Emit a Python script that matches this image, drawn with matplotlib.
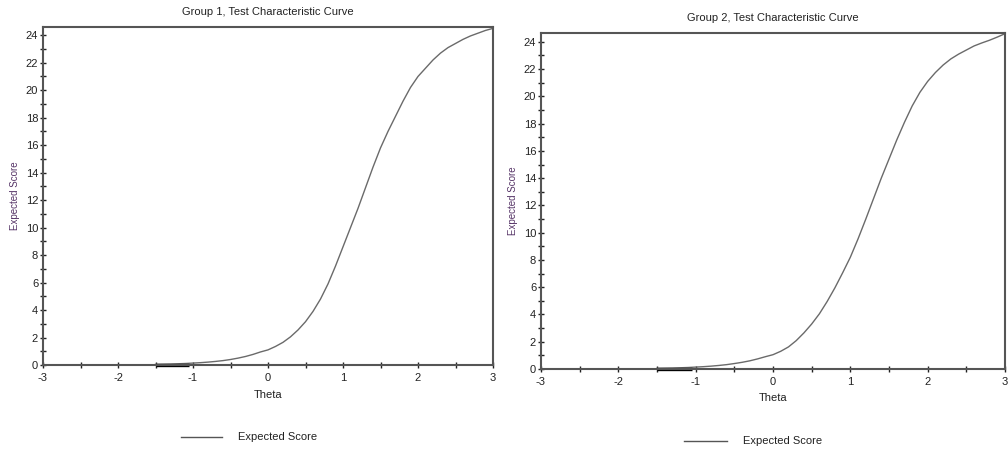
import matplotlib
matplotlib.use("Agg")
import matplotlib.pyplot as plt

plt.rcParams['font.family'] = ['Liberation Sans', 'DejaVu Sans']

# Data (theta every 0.1 from -1.5 to 3.0)
theta = [-1.5, -1.4, -1.3, -1.2, -1.1, -1.0, -0.9, -0.8, -0.7, -0.6,
         -0.5, -0.4, -0.3, -0.2, -0.1, 0.0, 0.1, 0.2, 0.3, 0.4,
         0.5, 0.6, 0.7, 0.8, 0.9, 1.0, 1.1, 1.2, 1.3, 1.4,
         1.5, 1.6, 1.7, 1.8, 1.9, 2.0, 2.1, 2.2, 2.3, 2.4,
         2.5, 2.6, 2.7, 2.8, 2.9, 3.0]
score1 = [0.05, 0.06, 0.07, 0.09, 0.11, 0.14, 0.17, 0.21, 0.26, 0.32,
          0.40, 0.50, 0.62, 0.77, 0.95, 1.10, 1.35, 1.65, 2.05, 2.55,
          3.15, 3.90, 4.80, 5.90, 7.20, 8.60, 10.0, 11.4, 12.9, 14.4,
          15.8, 17.0, 18.1, 19.2, 20.2, 21.0, 21.6, 22.2, 22.7, 23.1,
          23.4, 23.7, 23.95, 24.15, 24.35, 24.5]
score2 = [0.05, 0.06, 0.07, 0.09, 0.11, 0.14, 0.17, 0.21, 0.26, 0.32,
          0.40, 0.49, 0.60, 0.74, 0.90, 1.05, 1.30, 1.62, 2.08, 2.65,
          3.30, 4.05, 4.95, 5.95, 7.05, 8.20, 9.55, 11.0, 12.5, 14.0,
          15.4, 16.8, 18.1, 19.3, 20.3, 21.1, 21.75, 22.3, 22.75, 23.1,
          23.4, 23.7, 23.92, 24.12, 24.35, 24.6]

x_major = [-3, -2, -1, 0, 1, 2, 3]
x_minor = [-2.5, -1.5, -0.5, 0.5, 1.5, 2.5]
y_major = [0, 2, 4, 6, 8, 10, 12, 14, 16, 18, 20, 22, 24]
y_minor = [1, 3, 5, 7, 9, 11, 13, 15, 17, 19, 21, 23]

titles = ["Group 1, Test Characteristic Curve", "Group 2, Test Characteristic Curve"]
xlabel = "Theta"
ylabel = "Expected Score"
legend_label = "Expected Score"

W, H = 1008, 450
fig = plt.figure(figsize=(W / 100, H / 100), dpi=100)

def px_axes(x0, y0, x1, y1):
    return fig.add_axes([x0 / W, 1 - y1 / H, (x1 - x0) / W, (y1 - y0) / H])

axes = [px_axes(43, 27, 493, 365), px_axes(541, 33, 1005, 369)]
datasets = [score1, score2]
ymaxes = [24.6, 24.65]
legend_pos = [((181, 222), 238, 437), ((684, 727), 743, 441)]
title_y = [12, 18]
xlabel_y = [395, 398]

frame_col = "#555555"
for i, ax in enumerate(axes):
    sc = datasets[i]
    ax.plot(theta, sc, color="#6a6a6a", lw=1.0, solid_joinstyle='round')
    # darker segment where the curve lies on the axis
    ax.plot([theta[0], -1.05], [0.03, 0.03], color="black", lw=2.4, solid_capstyle='butt', clip_on=False)
    ax.set_xlim(-3, 3)
    ax.set_ylim(0, ymaxes[i])
    ax.set_xticks(x_major)
    ax.set_xticklabels([str(v) for v in x_major])
    ax.set_xticks(x_minor, minor=True)
    ax.set_yticks(y_major)
    ax.set_yticklabels([str(v) for v in y_major])
    ax.set_yticks(y_minor, minor=True)
    ax.tick_params(axis='both', which='both', direction='inout', colors='#222222',
                   labelcolor='#222222', labelsize=8, width=1.0, length=5)
    ax.tick_params(axis='x', which='major', pad=3)
    ax.tick_params(axis='y', which='major', pad=1)
    for s in ax.spines.values():
        s.set_color(frame_col)
        s.set_linewidth(1.5)
    ax.set_ylabel(ylabel, fontsize=7, color='#553366', labelpad=4)
    bb = ax.get_position()
    cx = bb.x0 + bb.width / 2
    fig.text(cx, 1 - title_y[i] / H, titles[i], ha='center', va='center',
             fontsize=8, color='#222222')
    fig.text(cx, 1 - xlabel_y[i] / H, xlabel, ha='center', va='center',
             fontsize=8, color='#222222')
    (lx0, lx1), tx, ly = legend_pos[i]
    fig.add_artist(plt.Line2D([lx0 / W, lx1 / W], [1 - ly / H, 1 - ly / H], color='#555555', lw=1.0))
    fig.text(tx / W, 1 - ly / H, legend_label, ha='left', va='center', fontsize=8, color='#222222')

fig.savefig("out.png", dpi=100)
